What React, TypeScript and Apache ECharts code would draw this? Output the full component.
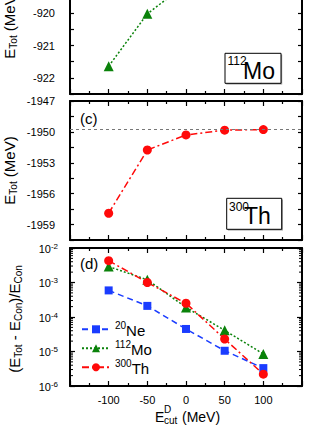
import React, { useEffect, useRef } from 'react';
import * as echarts from 'echarts';

// ---- data ----
const X_CUT = [-100, -50, 0, 50, 100];
// panel (b): 112Mo total energy (MeV)
const MO_B = [-921.64, -920.02, -919.1, -918.9, -918.85];
// panel (c): 300Th total energy (MeV)
const TH_C = [-1957.9, -1951.76, -1950.3, -1949.83, -1949.78];
const TH_C_REF = -1949.75;
// panel (d): relative deviation
const NE_D = [5.9e-4, 2.1e-4, 4.5e-5, 1.05e-5, 3.3e-6];
const MO_D = [2.9e-3, 1.2e-3, 1.9e-4, 4.1e-5, 8.5e-6];
const TH_D = [4.3e-3, 1.0e-3, 2.5e-4, 2.3e-5, 2.2e-6];
const LEGEND_NAMES = ['20Ne', '112Mo', '300Th'];

const FF = '"Liberation Sans", Arial, Helvetica, sans-serif';
const OFF = 45; // page is the lower part of a taller figure
const BLUE = '#1a3cff';
const GREEN = '#0a820a';
const RED = '#ff0a0a';

const LOG_MINOR: number[] = [];
for (let e = -6; e < -2; e++) for (let k = 2; k <= 9; k++) LOG_MINOR.push(k * Math.pow(10, e));

const axisLine = { show: true, onZero: false, lineStyle: { color: '#000', width: 2 } };
const tickStyle = { color: '#000', width: 1.2 };

function mkX(gridIndex: number, position: 'top' | 'bottom', labels: boolean) {
  return {
    type: 'value', gridIndex, position, min: -150, max: 150, interval: 50,
    axisLine,
    axisTick: { show: true, inside: true, length: 5, lineStyle: tickStyle },
    minorTick: { show: true, splitNumber: 2, length: 3, lineStyle: tickStyle },
    splitLine: { show: false },
    axisLabel: {
      show: labels, margin: 8, fontSize: 11, color: '#000', fontFamily: FF,
      formatter: (v: number) => (Math.abs(v) >= 150 ? '' : String(v)),
    },
  };
}

function mkYLin(gridIndex: number, position: 'left' | 'right', min: number, max: number, interval: number, labelEvery: number, labels: boolean) {
  return {
    type: 'value', gridIndex, position, min, max, interval,
    axisLine,
    axisTick: { show: true, inside: true, length: 4, lineStyle: tickStyle },
    splitLine: { show: false },
    axisLabel: {
      show: labels, margin: 15, fontSize: 11, color: '#000', fontFamily: FF,
      formatter: (v: number) => {
        const r = v / labelEvery;
        return Math.abs(r - Math.round(r)) < 1e-6 ? String(Math.round(v)) : '';
      },
    },
  };
}

function mkYLog(gridIndex: number, position: 'left' | 'right', labels: boolean) {
  return {
    type: 'log', logBase: 10, gridIndex, position, min: 1e-6, max: 1e-2,
    axisLine,
    axisTick: { show: true, inside: true, length: 5, lineStyle: tickStyle },
    splitLine: { show: false },
    axisLabel: {
      show: labels, margin: 12, color: '#000', fontFamily: FF,
      formatter: (v: number) => `{b|10}{s|${Math.round(Math.log10(v))}}`,
      rich: {
        b: { fontSize: 11, fontFamily: FF, color: '#000', lineHeight: 12, verticalAlign: 'bottom' },
        s: { fontSize: 8, fontFamily: FF, color: '#000', lineHeight: 8, verticalAlign: 'top', padding: [0, 0, 6, 0] },
      },
    },
  };
}

const pairs = (ys: number[]) => X_CUT.map((x, i) => [x, ys[i]]);

function lineSeries(name: string, xi: number, data: number[][], color: string, dash: number[], symbol: string, size: number, extra: any = {}) {
  return {
    type: 'line', name, xAxisIndex: xi, yAxisIndex: xi, data,
    symbol, symbolSize: size,
    itemStyle: { color },
    lineStyle: { color, width: 1.5, type: dash },
    clip: true,
    ...extra,
  };
}

const supRich = {
  m: { fontSize: 15, fontFamily: FF, color: '#000', lineHeight: 17, verticalAlign: 'bottom' },
  s: { fontSize: 10, fontFamily: FF, color: '#000', lineHeight: 10, verticalAlign: 'top', padding: [0, 0, 7, 0] },
};

const titleRich = {
  m: { fontSize: 15, fontFamily: FF, color: '#000', lineHeight: 17, verticalAlign: 'top' },
  d: { fontSize: 10, fontFamily: FF, color: '#000', lineHeight: 11, verticalAlign: 'bottom', padding: [10, 0, 0, 0] },
};

export default function App() {
  const ref = useRef<HTMLDivElement>(null);
  useEffect(() => {
    if (!ref.current) return;
    const chart = echarts.init(ref.current, undefined, { renderer: 'svg' });
    const t = (s: string, x: number, y: number, size: number, extra: any = {}) => ({
      type: 'text', x, y, silent: true,
      style: { text: s, fontSize: size, fontFamily: FF, fill: '#000', align: 'left', verticalAlign: 'middle', ...extra },
    });
    const box = (x: number, y: number, w: number, h: number) => [
      { type: 'rect', shape: { x: x + 1.2, y: y + 1.2, width: w, height: h }, style: { fill: '#999' }, silent: true },
      { type: 'rect', shape: { x, y, width: w, height: h }, style: { fill: '#fff', stroke: '#000', lineWidth: 1 }, silent: true },
    ];
    chart.setOption({
      animation: false,
      grid: [
        { left: 70, right: 30, top: 0, height: 139 },
        { left: 70, right: 30, top: 146, height: 139 },
        { left: 70, right: 30, top: 293, height: 138 },
      ],
      xAxis: [
        mkX(0, 'bottom', false), mkX(0, 'top', false),
        mkX(1, 'bottom', false), mkX(1, 'top', false),
        mkX(2, 'bottom', true), mkX(2, 'top', false),
      ],
      yAxis: [
        mkYLin(0, 'left', -922.5, -918.2, 0.5, 1, true), mkYLin(0, 'right', -922.5, -918.2, 0.5, 1, false),
        mkYLin(1, 'left', -1960.5, -1947, 1.5, 3, true), mkYLin(1, 'right', -1960.5, -1947, 1.5, 3, false),
        mkYLog(2, 'left', true), mkYLog(2, 'right', false),
      ],
      legend: {
        orient: 'vertical', left: 81, top: 329.3 + OFF - 8.5, itemWidth: 28, itemHeight: 10, itemGap: 2,
        padding: 0, data: LEGEND_NAMES,
        formatter: (name: string) => {
          const m = /^(\d+)(\D+)$/.exec(name);
          return m ? `{s|${m[1]}}{m|${m[2]}}` : name;
        },
        textStyle: { rich: supRich },
      },
      series: [
        lineSeries('Mo112-b', 0, pairs(MO_B), GREEN, [2, 2], 'triangle', 10),
        lineSeries('Th300-c', 2, pairs(TH_C), RED, [7, 3, 2, 3], 'circle', 9, {
          markLine: {
            silent: true, symbol: 'none', label: { show: false },
            lineStyle: { color: '#777', width: 1, type: [3, 3] },
            data: [{ yAxis: TH_C_REF }],
          },
        }),
        lineSeries('20Ne', 4, pairs(NE_D), BLUE, [6, 4], 'rect', 8),
        lineSeries('112Mo', 4, pairs(MO_D), GREEN, [2, 2], 'triangle', 10),
        lineSeries('300Th', 4, pairs(TH_D), RED, [7, 3, 2, 3], 'circle', 9),
        {
          type: 'custom', name: 'minor', xAxisIndex: 4, yAxisIndex: 4, silent: true, z: 10,
          data: LOG_MINOR.map((v) => [0, v]),
          renderItem: (_p: any, api: any) => {
            const v = api.value(1);
            const l = api.coord([-150, v]);
            const r = api.coord([150, v]);
            return {
              type: 'group',
              children: [
                { type: 'line', shape: { x1: l[0], y1: l[1], x2: l[0] + 3, y2: l[1] }, style: { stroke: '#000', lineWidth: 1 } },
                { type: 'line', shape: { x1: r[0] - 3, y1: r[1], x2: r[0], y2: r[1] }, style: { stroke: '#000', lineWidth: 1 } },
              ],
            };
          },
        },
      ],
      graphic: [
        // y-axis titles
        {
          type: 'text', x: 10, y: 24.5 + OFF, rotation: Math.PI / 2, silent: true,
          style: { text: '{m|E}{d|Tot}{m| (MeV)}', rich: titleRich, align: 'center', verticalAlign: 'middle' },
        },
        {
          type: 'text', x: 10, y: 170.5 + OFF, rotation: Math.PI / 2, silent: true,
          style: { text: '{m|E}{d|Tot}{m| (MeV)}', rich: titleRich, align: 'center', verticalAlign: 'middle' },
        },
        {
          type: 'text', x: 15, y: 319 + OFF, rotation: Math.PI / 2, silent: true,
          style: { text: '{m|(E}{d|Tot}{m| - E}{d|Con}{m|)/E}{d|Con}', rich: titleRich, align: 'center', verticalAlign: 'middle' },
        },
        // x-axis title
        t('E', 155, 416.5 + OFF, 14),
        t('D', 164, 409.5 + OFF, 10),
        t('cut', 164, 420 + OFF, 10),
        t('(MeV)', 182, 416.5 + OFF, 14),
        // panel labels
        t('(c)', 80, 118.5 + OFF, 15),
        t('(d)', 80, 263.5 + OFF, 15),
        // nucleus boxes
        ...box(225, 53.3 + OFF, 56, 30),
        t('112', 227.5, 60.5 + OFF, 12),
        t('Mo', 243, 70.5 + OFF, 23),
        ...box(226.7, 198.3 + OFF, 55, 31),
        t('300', 229, 207 + OFF, 12),
        t('Th', 244, 215.5 + OFF, 23),
      ],
    });
    return () => chart.dispose();
  }, []);
  return (
    <div
      ref={ref}
      style={{ position: 'fixed', left: 0, top: -OFF, width: 332, height: 430 + OFF, background: '#fff' }}
    />
  );
}
